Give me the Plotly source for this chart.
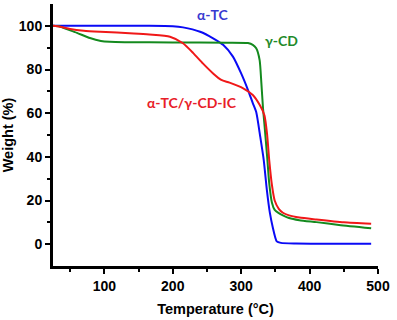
import plotly.graph_objects as go

# α-TC (blue)
tc_temp = [25, 100, 166, 200, 215, 240, 259, 274, 288, 300, 310, 317, 322, 328, 333, 337.5, 342, 346, 352, 358, 380, 490]
tc_wt   = [100, 100, 100, 99.8, 99.3, 97.3, 94.3, 91.2, 85.9, 78.2, 70.6, 64.6, 60.5, 49, 38.5, 25, 14.3, 8, 1.3, 0.6, 0.3, 0.2]

# γ-CD (green)
cd_temp = [25, 35, 45, 60, 79, 95, 108, 130, 200, 280, 310, 317, 322, 327, 329.5, 332, 334, 338, 341, 345, 349, 355, 361, 370, 385, 410, 443, 490]
cd_wt   = [100, 99.7, 98.5, 96.8, 94.4, 93.1, 92.7, 92.5, 92.4, 92.3, 92.1, 91.3, 89.7, 84.3, 74, 62, 55, 40, 28, 19, 15.7, 14.2, 13.2, 12, 11, 10.1, 8.8, 7.3]

# α-TC/γ-CD-IC (red)
ic_temp = [25, 35, 50, 70, 94, 143, 166, 196, 215, 230, 244, 259, 271, 283, 303, 317, 327, 334, 338, 341, 345, 349, 355, 361, 370, 385, 410, 450, 490]
ic_wt   = [100, 99.6, 98.6, 97.8, 97.3, 96.5, 96, 95, 92, 87.5, 82.8, 78.2, 75.2, 74, 71.4, 68.3, 63.8, 59, 50, 38.5, 27, 20, 16.2, 14.4, 13.2, 12.2, 11.3, 10, 9.3]

labels = ["α-TC", "γ-CD", "α-TC/γ-CD-IC"]
label_x = [259, 359, 228]
label_y = [105, 93.5, 65]
colors = ["#0a0af5", "#148a1e", "#f01818"]
label_colors = ["#3a3ad0", "#1f8a2a", "#e82028"]

fig = go.Figure()
for t, w, c, n in [(tc_temp, tc_wt, colors[0], labels[0]),
                   (cd_temp, cd_wt, colors[1], labels[1]),
                   (ic_temp, ic_wt, colors[2], labels[2])]:
    fig.add_trace(go.Scatter(x=t, y=w, mode="lines", name=n,
                             line=dict(color=c, width=2, shape="spline", smoothing=0.6)))

for txt, x, y, c in zip(labels, label_x, label_y, label_colors):
    fig.add_annotation(x=x, y=y, text=txt, showarrow=False,
                       font=dict(family="Lato", size=14, color=c, weight="bold"))

tick_font = dict(family="Liberation Sans", size=14, color="black", weight="bold")
title_font = dict(family="Liberation Sans", size=14.5, color="black", weight="bold")
fig.update_layout(
    width=397, height=320,
    margin=dict(l=53, r=19, t=4, b=54),
    plot_bgcolor="white", paper_bgcolor="white",
    showlegend=False,
    xaxis=dict(range=[25, 500], tickvals=[100, 200, 300, 400, 500],
               showline=True, linecolor="black", linewidth=3,
               ticks="outside", ticklen=5, tickwidth=2, tickcolor="black",
               minor=dict(tickvals=[50, 150, 250, 350, 450], ticks="outside", ticklen=3, tickwidth=2, tickcolor="black"),
               showgrid=False, zeroline=False, tickfont=tick_font,
               title=dict(text="Temperature (°C)", font=title_font, standoff=12)),
    yaxis=dict(range=[-10, 110], tickvals=[0, 20, 40, 60, 80, 100],
               showline=True, linecolor="black", linewidth=3,
               ticks="outside", ticklen=5, tickwidth=2, tickcolor="black",
               minor=dict(tickvals=[10, 30, 50, 70, 90], ticks="outside", ticklen=3, tickwidth=2, tickcolor="black"),
               showgrid=False, zeroline=False, tickfont=tick_font,
               title=dict(text="Weight (%)", font=title_font, standoff=5)),
)

fig.write_html("out.html")
